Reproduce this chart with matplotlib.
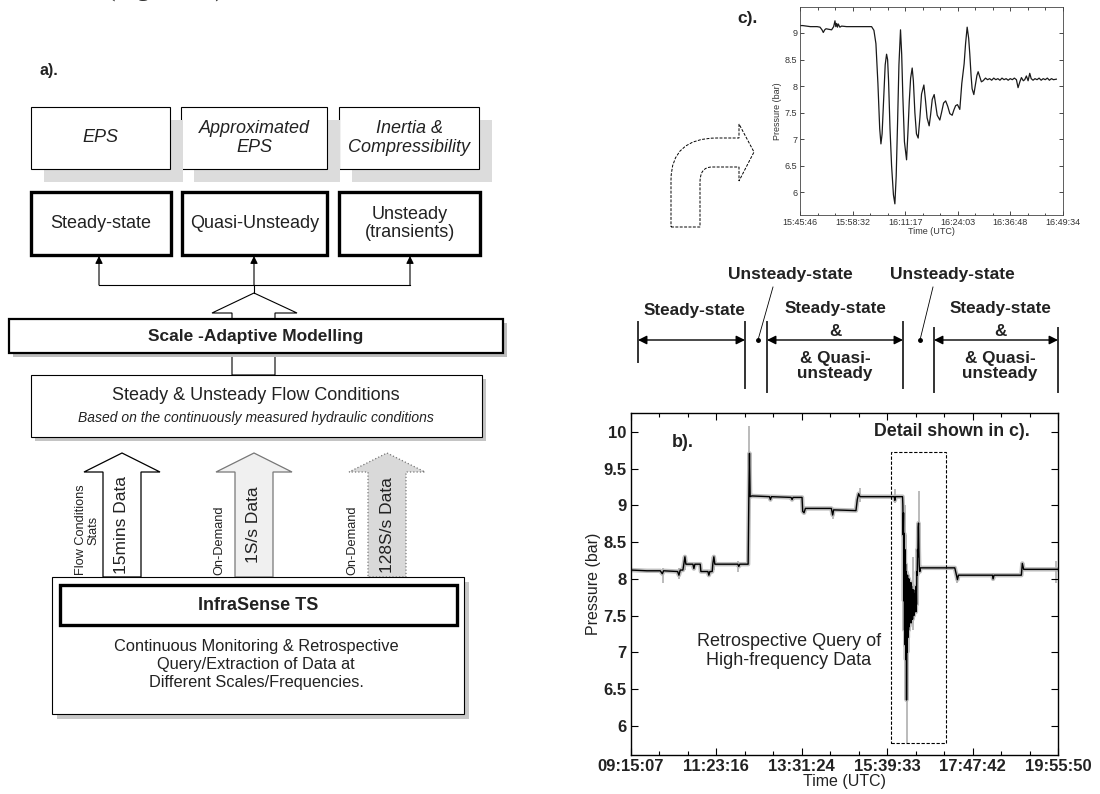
import numpy as np
import matplotlib
matplotlib.use('Agg')
import matplotlib.pyplot as plt
from matplotlib.patches import Rectangle, Polygon, PathPatch
from matplotlib.path import Path
from matplotlib.ticker import AutoMinorLocator

plt.rcParams['font.family'] = ['Liberation Sans', 'DejaVu Sans']

# ---------------- panel c data (seconds after 15:45:46, pressure in bar)
c_time = [0, 39, 150, 250, 291, 320, 339, 360, 378, 420, 460, 490, 509, 521, 533, 545, 557, 580,
          606, 678, 800, 950, 1042, 1076, 1105, 1134, 1160, 1178, 1195, 1212, 1240, 1260, 1275,
          1289, 1310, 1333, 1360, 1381, 1400, 1420, 1440, 1463, 1480, 1497, 1520, 1551, 1570,
          1590, 1610, 1633, 1650, 1672, 1695, 1720, 1745, 1769, 1803, 1825, 1850, 1880, 1900,
          1925, 1953, 1975, 1997, 2035, 2060, 2090, 2120, 2150, 2181, 2215, 2240, 2265, 2292,
          2326, 2355, 2389, 2410, 2433, 2455, 2471, 2490, 2505, 2530, 2550, 2575, 2593, 2610,
          2640, 2665, 2700, 2730, 2760, 2790, 2820, 2850, 2880, 2910, 2940, 2970, 3000, 3030,
          3060, 3090, 3120, 3150, 3174, 3200, 3223, 3250, 3271, 3295, 3320, 3344, 3365, 3392,
          3420, 3450, 3480, 3510, 3540, 3570, 3600, 3630, 3660, 3690, 3731]
c_pres = [9.14, 9.14, 9.12, 9.12, 9.11, 9.06, 9.01, 9.06, 9.08, 9.07, 9.06, 9.12, 9.23, 9.12, 9.18,
          9.11, 9.17, 9.11, 9.13, 9.12, 9.12, 9.12, 9.12, 9.05, 8.80, 8.05, 7.20, 6.91, 7.10, 7.60,
          8.40, 8.60, 8.50, 8.10, 7.20, 6.50, 5.95, 5.78, 6.30, 7.30, 8.40, 9.06, 8.60, 7.80, 6.95,
          6.61, 7.10, 7.70, 8.15, 8.34, 8.10, 7.50, 7.10, 7.02, 7.40, 7.85, 8.02, 7.75, 7.40, 7.25,
          7.45, 7.75, 7.84, 7.65, 7.45, 7.36, 7.50, 7.68, 7.72, 7.62, 7.48, 7.45, 7.55, 7.63, 7.65,
          7.56, 8.05, 8.42, 8.80, 9.11, 8.90, 8.61, 8.20, 7.95, 7.84, 8.00, 8.20, 8.27, 8.20, 8.08,
          8.10, 8.15, 8.12, 8.14, 8.11, 8.15, 8.12, 8.14, 8.11, 8.15, 8.12, 8.14, 8.11, 8.14, 8.12,
          8.15, 8.12, 7.97, 8.08, 8.16, 8.10, 8.12, 8.19, 8.10, 8.24, 8.14, 8.11, 8.14, 8.12, 8.15,
          8.11, 8.14, 8.12, 8.15, 8.11, 8.14, 8.12, 8.13]
c_tick_labels = ['15:45:46', '15:58:32', '16:11:17', '16:24:03', '16:36:48', '16:49:34']
c_span = 3828
c_yticks = [6, 6.5, 7, 7.5, 8, 8.5, 9]

# ---------------- panel b data (seconds after 09:15:07, pressure in bar)
b_time = [0, 1438, 2636, 2816, 2936, 4194, 4314, 4434, 4674, 4764, 4854, 4943, 5573, 5662, 5752,
          6232, 6292, 6921, 7011, 7101, 7310, 7370, 7460, 7550, 9617, 9707, 9797, 10546, 10606,
          10666, 10726, 10875, 12463, 12553, 12643, 14411, 14501, 14590, 15399, 15459, 15579,
          15699, 18036, 18156, 18246, 20253, 20373, 20493, 20612, 23700, 23758, 23820, 24447,
          24477, 24507, 24537, 24567, 24597, 24627, 24657, 24687, 24717, 24747, 24777, 24807,
          24837, 24867, 24897, 24927, 24957, 24986, 25016, 25046, 25076, 25106, 25136, 25166,
          25196, 25226, 25256, 25286, 25316, 25346, 25376, 25406, 25436, 25466, 25496, 25526,
          25556, 25586, 25616, 25646, 25676, 25706, 25736, 25766, 25796, 25826, 25856, 25886,
          25916, 25946, 25976, 26005, 26065, 29151, 29301, 29391, 29481, 32537, 32597, 32687,
          35143, 35233, 35353, 38439]
b_pres = [8.12, 8.11, 8.11, 8.07, 8.11, 8.10, 8.05, 8.12, 8.12, 8.21, 8.30, 8.20, 8.20, 8.14, 8.20,
          8.20, 8.10, 8.10, 8.05, 8.10, 8.10, 8.21, 8.30, 8.20, 8.20, 8.17, 8.20, 8.20, 9.08,
          9.71, 9.12, 9.13, 9.12, 9.08, 9.12, 9.11, 9.08, 9.11, 9.11, 8.92, 8.90, 8.96, 8.96,
          8.87, 8.94, 8.93, 9.08, 9.16, 9.12, 9.12, 9.07, 9.12, 9.12,
          9.00, 8.60, 8.90, 7.70, 8.62, 7.30, 8.40, 7.10, 8.20, 6.90, 8.10, 6.35,
          7.90, 7.00, 8.05, 7.20, 7.95, 7.30, 8.00, 7.35, 7.95, 7.40, 7.90, 7.45,
          7.95, 7.40, 7.90, 7.50, 7.85, 7.45, 7.80, 7.55, 7.85, 7.50, 7.80, 7.55,
          7.75, 7.60, 7.85, 7.55, 7.90, 7.65, 8.10, 8.05, 8.40, 8.30, 8.70, 8.76,
          8.40, 8.20, 8.12, 8.10, 8.15, 8.15, 8.05, 7.99, 8.05, 8.05, 8.00, 8.05,
          8.05, 8.21, 8.13, 8.13]
b_spike_time = [10666, 24867, 25886, 24627, 2876, 4314, 9677, 29391, 32597, 38300, 23758, 18216,
                20612, 4883, 7430, 24747, 25346]
b_spike_low = [8.20, 5.77, 8.10, 7.50, 7.95, 8.00, 8.10, 7.95, 7.98, 7.95, 9.04, 8.82,
               9.05, 8.12, 8.12, 6.90, 7.30]
b_spike_high = [10.08, 7.00, 9.20, 9.00, 8.15, 8.15, 8.25, 8.10, 8.08, 8.24, 9.22, 8.96,
                9.24, 8.33, 8.33, 8.60, 8.30]
b_tick_labels = ['09:15:07', '11:23:16', '13:31:24', '15:39:33', '17:47:42', '19:55:50']
b_span = 38443
b_yticks = [6, 6.5, 7, 7.5, 8, 8.5, 9, 9.5, 10]
detail_window = [23408, 28360]
detail_range = [5.77, 9.73]

# ---------------- diagram text
top_labels = ['EPS', 'Approximated\nEPS', 'Inertia &\nCompressibility']
mid_labels = ['Steady-state', 'Quasi-Unsteady', 'Unsteady\n(transients)']
arrow_labels = ['15mins Data', '1S/s Data', '128S/s Data']
arrow_side_labels = ['Flow Conditions\nStats', 'On-Demand', 'On-Demand']

TXT = '#222222'
fig = plt.figure(figsize=(11, 7.94), dpi=100)
ax0 = fig.add_axes([0, 0, 1, 1])
ax0.set_xlim(0, 1100)
ax0.set_ylim(794, 0)
ax0.axis('off')


def box(x0, y0, x1, y1, lw=0.8, shadow=None, sh_off=(4, 4), sh_col='#c4c4c4', z=2, ec='black'):
    if shadow:
        ax0.add_patch(Rectangle((x0 + sh_off[0], y0 + sh_off[1]), x1 - x0, y1 - y0,
                                fc=sh_col, ec='none', zorder=z))
    ax0.add_patch(Rectangle((x0, y0), x1 - x0, y1 - y0, fc='white', ec=ec, lw=lw, zorder=z + 0.1))


ax0.text(107, -3, '(Figure 10)', family='Liberation Serif', fontsize=18.5, va='baseline',
         ha='left', color='#333333')
ax0.text(40, 70, 'a).', fontsize=11.5, fontweight='bold', va='center', ha='left', color=TXT)

# top row (italic, shadows)
top_x = [(31, 170), (181, 327), (339, 479)]
for i in [2, 1, 0]:
    x0, x1 = top_x[i]
    box(x0, 107, x1, 169, lw=0.8, shadow=True, sh_off=(13, 13), sh_col='#dcdcdc', z=2 + (2 - i))
    ax0.text((x0 + x1) / 2, 138, top_labels[i], fontsize=13, style='italic', ha='center',
             va='center', color=TXT, zorder=6, linespacing=1.1)

# middle row (thick)
mid_x = [(31, 171), (182, 327), (339, 480)]
for i, (x0, x1) in enumerate(mid_x):
    ax0.add_patch(Rectangle((x0, 192), x1 - x0, 63, fc='white', ec='black', lw=2.4, zorder=3))
    ax0.text((x0 + x1) / 2, 223.5, mid_labels[i], fontsize=13, ha='center', va='center',
             color=TXT, zorder=6, linespacing=1.1)

# thin connector arrows
ax0.plot([99, 410], [285, 285], color='black', lw=0.8, zorder=2)
ax0.plot([254, 254], [285, 293], color='black', lw=0.8, zorder=2)
for xa in [99, 254, 410]:
    ax0.annotate('', xy=(xa, 256), xytext=(xa, 285),
                 arrowprops=dict(arrowstyle='-|>', lw=0.8, color='black', mutation_scale=11,
                                 shrinkA=0, shrinkB=0), zorder=2)

# hollow arrow into the top
ax0.add_patch(Polygon([(254, 293), (297, 313), (275, 313), (275, 375), (232, 375), (232, 313),
                       (212, 313)], closed=True, fc='white', ec='black', lw=0.8, zorder=1))

# scale adaptive modelling box
box(9, 319, 503, 353, lw=1.6, shadow=True, sh_off=(4, 4), sh_col='#bdbdbd', z=2)
ax0.text(256, 336.5, 'Scale -Adaptive Modelling', fontsize=12.5, fontweight='bold',
         ha='center', va='center', color=TXT, zorder=6)

# steady & unsteady box
box(31, 375, 482, 437, lw=0.8, shadow=True, sh_off=(4, 4), sh_col='#c4c4c4', z=2)
ax0.text(256, 396, 'Steady & Unsteady Flow Conditions', fontsize=13, ha='center',
         va='center', color=TXT, zorder=6)
ax0.text(256, 418, 'Based on the continuously measured hydraulic conditions', fontsize=10,
         style='italic', ha='center', va='center', color=TXT, zorder=6)

# big data arrows
arrow_cx = [122, 254, 387]
arrow_fc = ['white', '#f0f0f0', '#d9d9d9']
arrow_ec = ['black', '#777777', '#777777']
arrow_ls = ['-', '-', ':']
for i, cx in enumerate(arrow_cx):
    pts = [(cx, 453), (cx + 38, 472), (cx + 19, 472), (cx + 19, 577), (cx - 19, 577),
           (cx - 19, 472), (cx - 38, 472)]
    ax0.add_patch(Polygon(pts, closed=True, fc=arrow_fc[i], ec=arrow_ec[i], lw=0.9,
                          ls=arrow_ls[i], zorder=2))
    ax0.text(cx, 525, arrow_labels[i], rotation=90, fontsize=12.5, ha='center', va='center',
             color=TXT, zorder=6)
    ax0.text(cx - 35, 530 if i == 0 else 540, arrow_side_labels[i], rotation=90, fontsize=9.2,
             ha='center', va='center', color=TXT, zorder=6, linespacing=1.0)

# InfraSense box
box(52, 577, 464, 714, lw=0.8, shadow=True, sh_off=(5, 5), sh_col='#c8c8c8', z=2)
ax0.add_patch(Rectangle((60, 585), 397, 40, fc='white', ec='black', lw=2.4, zorder=3))
ax0.text(258, 605, 'InfraSense TS', fontsize=13, fontweight='bold', ha='center', va='center',
         color=TXT, zorder=6)
ax0.text(256, 664, 'Continuous Monitoring & Retrospective\nQuery/Extraction of Data at\n'
         'Different Scales/Frequencies.', fontsize=11.8, ha='center', va='center', color=TXT,
         zorder=6, linespacing=1.25)

# dashed curved arrow
verts = [(671, 227), (700, 227), (700, 182), (700, 167), (712, 167), (739, 167), (739, 181),
         (754, 152), (739, 124), (739, 138), (717, 138), (671, 138), (671, 180), (671, 227)]
codes = [Path.MOVETO, Path.LINETO, Path.LINETO, Path.CURVE3, Path.CURVE3, Path.LINETO,
         Path.LINETO, Path.LINETO, Path.LINETO, Path.LINETO, Path.LINETO, Path.CURVE3,
         Path.CURVE3, Path.CLOSEPOLY]
ax0.add_patch(PathPatch(Path(verts, codes), fc='white', ec='black', lw=0.7, ls=(0, (3, 1.5)),
                        zorder=2))

# state annotations
BAR = '#333333'
bars = [(638, 322, 362), (745, 322, 388), (767, 322, 392), (903, 322, 388), (934, 328, 392),
        (1058, 328, 392)]
for x, y0, y1 in bars:
    ax0.plot([x, x], [y0, y1], color=BAR, lw=1.4, zorder=2)
for xa, xb in [(638, 745), (767, 903), (934, 1058)]:
    ax0.annotate('', xy=(xa, 340), xytext=(xb, 340),
                 arrowprops=dict(arrowstyle='<|-|>', lw=1.0, color='black', mutation_scale=13,
                                 shrinkA=0, shrinkB=0), zorder=2)
ax0.text(694, 311, 'Steady-state', fontsize=12.3, fontweight='bold', ha='center', va='center',
         color=TXT)
for cx in [835, 1000]:
    ax0.text(cx, 309, 'Steady-state', fontsize=12.3, fontweight='bold', ha='center',
             va='center', color=TXT)
    ax0.text(cx, 332, '&', fontsize=12.3, fontweight='bold', ha='center', va='center', color=TXT)
    ax0.text(cx, 366, '& Quasi-\nunsteady', fontsize=12.3, fontweight='bold', ha='center',
             va='center', color=TXT, linespacing=1.05)
for (dx, lx, tx) in [(758, 773, 790), (920, 933, 952)]:
    ax0.plot([dx, lx], [340, 287], color='black', lw=0.6)
    ax0.plot([dx], [340], 'o', color='black', ms=2.5)
    ax0.text(tx, 275, 'Unsteady-state', fontsize=12.5, fontweight='bold', ha='center',
             va='center', color=TXT)

# ---------------- panel c
ax_c = fig.add_axes([800 / 1100, (794 - 215) / 794, 263 / 1100, 208 / 794])
ax_c.plot(c_time, c_pres, color='#1a1a1a', lw=0.9)
ax_c.set_xlim(0, c_span)
ax_c.set_ylim(5.57, 9.49)
ax_c.set_xticks(np.linspace(0, c_span, len(c_tick_labels)))
ax_c.set_xticklabels(c_tick_labels)
ax_c.set_yticks(c_yticks)
ax_c.set_yticklabels([f'{v:g}' for v in c_yticks])
ax_c.xaxis.set_minor_locator(AutoMinorLocator(3))
ax_c.tick_params(which='both', direction='in', top=True, right=True, labelsize=6.5,
                 labelcolor='#333333', pad=2, width=0.5)
ax_c.tick_params(which='major', length=3)
ax_c.tick_params(which='minor', length=1.8)
ax_c.set_xlabel('Time (UTC)', fontsize=6.5, color='#333333', labelpad=0)
ax_c.set_ylabel('Pressure (bar)', fontsize=6.5, color='#333333', labelpad=2)
for s in ax_c.spines.values():
    s.set_linewidth(0.6)
    s.set_color('#444444')
fig.text(748 / 1100, 1 - 18 / 794, 'c).', fontsize=12.5, fontweight='bold', ha='center',
         va='center', color=TXT)

# ---------------- panel b
ax_b = fig.add_axes([631 / 1100, (794 - 755) / 794, 427 / 1100, 342 / 794])
ax_b.plot(b_time, b_pres, color='#c0c0c0', lw=3.2, zorder=1)
ax_b.vlines(b_spike_time, b_spike_low, b_spike_high, color='#b5b5b5', lw=1.3, zorder=1)
ax_b.plot(b_time, b_pres, color='black', lw=1.0, zorder=2)
ax_b.add_patch(Rectangle((detail_window[0], detail_range[0]), detail_window[1] - detail_window[0],
                         detail_range[1] - detail_range[0], fill=False, ec='black', lw=0.8,
                         ls=(0, (3, 1.5)), zorder=3))
ax_b.set_xlim(0, b_span)
ax_b.set_ylim(5.6, 10.26)
ax_b.set_xticks(np.linspace(0, b_span, len(b_tick_labels)))
ax_b.set_xticklabels(b_tick_labels)
ax_b.set_yticks(b_yticks)
ax_b.set_yticklabels([f'{v:g}' for v in b_yticks])
ax_b.xaxis.set_minor_locator(AutoMinorLocator(3))
ax_b.tick_params(which='both', direction='in', top=True, right=True, labelsize=12,
                 labelcolor='#222222', pad=3, width=0.8)
ax_b.tick_params(which='major', length=5)
ax_b.tick_params(which='minor', length=3)
for lab in ax_b.get_xticklabels() + ax_b.get_yticklabels():
    lab.set_fontweight('bold')
ax_b.set_xlabel('Time (UTC)', fontsize=11.5, color='#222222', labelpad=0)
ax_b.set_ylabel('Pressure (bar)', fontsize=11.5, color='#222222', labelpad=2)
for s in ax_b.spines.values():
    s.set_linewidth(1.0)
ax_b.text(0.122, 0.915, 'b).', transform=ax_b.transAxes, fontsize=13, fontweight='bold',
          ha='center', va='center', color=TXT)
ax_b.text(0.935, 0.945, 'Detail shown in c).', transform=ax_b.transAxes, fontsize=12.8,
          fontweight='bold', ha='right', va='center', color=TXT)
ax_b.text(0.37, 0.305, 'Retrospective Query of\nHigh-frequency Data', transform=ax_b.transAxes,
          fontsize=13, ha='center', va='center', color=TXT, linespacing=1.15)

fig.savefig('out.png', dpi=100)
